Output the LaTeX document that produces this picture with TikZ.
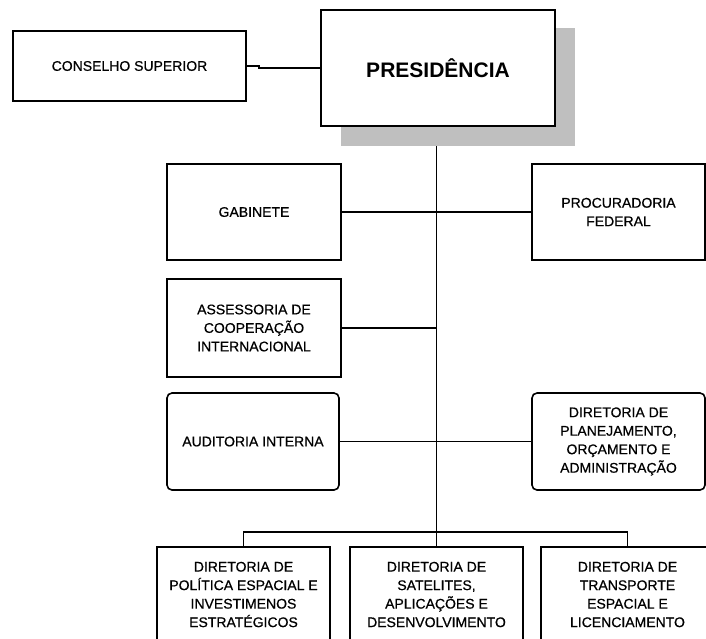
\documentclass[tikz,border=0pt]{standalone}
\usepackage{fontspec}
\setmainfont{Liberation Sans}
\newfontfamily\labelfont[FakeBold=0.6]{Liberation Sans}
\begin{document}
\begin{tikzpicture}[x=1pt,y=-1pt,
  box/.style={draw, line width=1.6pt, fill=white, align=center, inner sep=2pt,
    minimum width=174pt, minimum height=96pt, font=\labelfont\fontsize{14}{18.5}\selectfont},
  rbox/.style={box, rounded corners=5pt},
  conn/.style={line width=1.4pt},
  shadowbox/.style={fill=black!25, inner sep=0pt, minimum width=234pt, minimum height=118pt}]
\clip (0,0) rectangle (706,638);
\fill[white] (0,0) rectangle (706,638);
\coordinate (bus) at (436.5,532);
\node[shadowbox] (shadow) at (458,87) {};
\draw[conn] (shadow.south -| bus) -- (bus);
\node[box, minimum width=234pt, minimum height=116pt,
  font=\bfseries\fontsize{21}{24}\selectfont] (pres) at (438,68) {PRESIDÊNCIA};
\node[box, minimum width=233pt, minimum height=70pt] (cons) at (129.5,66) {CONSELHO SUPERIOR};
\node[box] (gab) at (254,212) {GABINETE};
\node[box, minimum width=173pt] (proc) at (618.5,212) {PROCURADORIA\\FEDERAL};
\node[box, minimum height=98pt] (ass) at (254,328) {ASSESSORIA DE\\COOPERAÇÃO\\INTERNACIONAL};
\node[rbox, minimum width=172pt, minimum height=97pt] (aud) at (253,441.5) {AUDITORIA INTERNA};
\node[rbox, minimum width=173pt, minimum height=97pt] (plan) at (618.5,441.5) {DIRETORIA DE\\PLANEJAMENTO,\\ORÇAMENTO E\\ADMINISTRAÇÃO};
\node[box, minimum width=173pt, minimum height=95pt] (b1) at (243.5,594.5) {DIRETORIA DE\\POLÍTICA ESPACIAL E\\INVESTIMENOS\\ESTRATÉGICOS};
\node[box, minimum width=173pt, minimum height=95pt] (b2) at (436.5,594.5) {DIRETORIA DE\\SATELITES,\\APLICAÇÕES E\\DESENVOLVIMENTO};
\node[box, minimum width=173pt, minimum height=95pt] (b3) at (627.5,594.5) {DIRETORIA DE\\TRANSPORTE\\ESPACIAL E\\LICENCIAMENTO};
\draw[conn] (cons.east) -- ++(12,0) |- (pres.west);
\draw[conn] (gab.east) -- (gab.east -| bus);
\draw[conn] (proc.west) -- (proc.west -| bus);
\draw[conn] (ass.east) -- (ass.east -| bus);
\draw[conn] (aud.east) -- (aud.east -| bus);
\draw[conn] (plan.west) -- (plan.west -| bus);
\draw[conn] (b1.north) |- (bus) -| (b3.north);
\draw[conn] (bus) -- (b2.north);
\end{tikzpicture}
\end{document}
